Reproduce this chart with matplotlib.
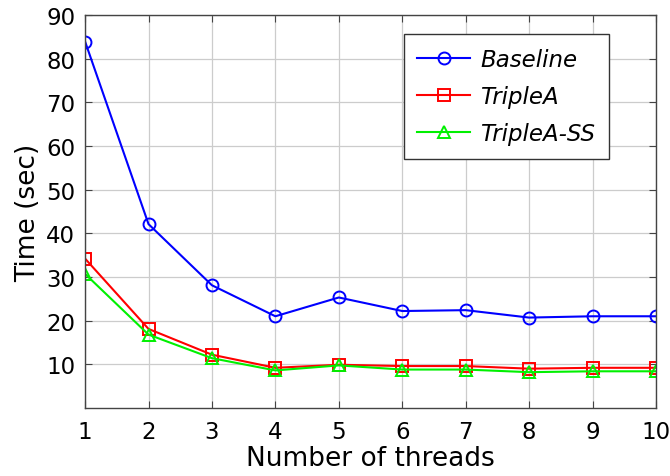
import matplotlib.pyplot as plt

threads = [1, 2, 3, 4, 5, 6, 7, 8, 9, 10]
baseline = [83.9, 42.1, 28.1, 21.0, 25.3, 22.2, 22.4, 20.7, 21.0, 21.0]
triplea = [34.2, 18.1, 12.2, 9.2, 9.9, 9.6, 9.6, 9.0, 9.2, 9.2]
triplea_ss = [30.7, 16.8, 11.4, 8.6, 9.75, 8.8, 8.8, 8.2, 8.4, 8.4]

plt.rcParams['font.family'] = ['DejaVu Sans']
plt.rcParams['font.size'] = 16.5

fig = plt.figure(figsize=(6.7, 4.77), dpi=100)
ax = fig.add_axes([0.127, 0.1426, 0.852, 0.824])

ax.plot(threads, baseline, color='blue', marker='o', markersize=8.6,
        markerfacecolor='none', markeredgewidth=1.4, linewidth=1.5, label='Baseline')
ax.plot(threads, triplea, color='red', marker='s', markersize=8.4,
        markerfacecolor='none', markeredgewidth=1.4, linewidth=1.5, label='TripleA')
ax.plot(threads, triplea_ss, color='#00f000', marker='^', markersize=8,
        markerfacecolor='none', markeredgewidth=1.4, linewidth=1.5, label='TripleA-SS')

ax.set_xlim(1, 10)
ax.set_ylim(0, 90)
ax.set_xticks(threads)
ax.set_yticks(range(10, 91, 10))
ax.grid(True, color='#cccccc', linewidth=0.9)
ax.set_axisbelow(True)
ax.tick_params(direction='in', top=True, right=True, length=5, color='#444444')
ax.tick_params(axis='y', pad=7)
ax.tick_params(axis='x', pad=9)
for s in ax.spines.values():
    s.set_color('#444444')
    s.set_linewidth(1.0)

ax.set_xlabel('Number of threads', fontsize=19, labelpad=1)
ax.set_ylabel('Time (sec)', fontsize=19, labelpad=4)

leg = ax.legend(loc='upper right', bbox_to_anchor=(0.918, 0.952), borderaxespad=0,
                fancybox=False, edgecolor='#333333', framealpha=1,
                handlelength=2.3, handletextpad=0.45,
                prop={'style': 'italic', 'size': 16.5}, borderpad=0.6, labelspacing=0.62)
leg.get_frame().set_linewidth(1.0)

fig.savefig('out.png', dpi=100)
